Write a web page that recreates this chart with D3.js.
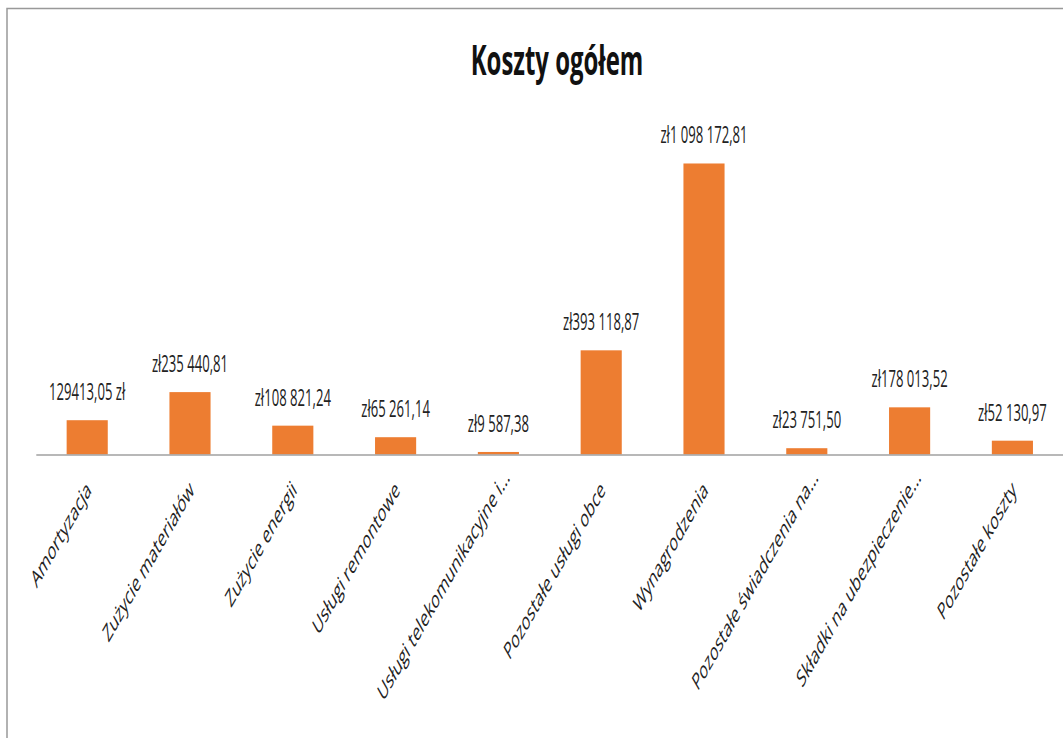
<!DOCTYPE html>
<html>
  <head>
    <meta charset="utf-8">
    <script src="https://cdn.jsdelivr.net/npm/d3@7"></script>
    <style>
        body { margin: 0; background: #fff; }
        text { font-family: "Open Sans", sans-serif; }
    </style>
  </head>

  <body>
    <div id="my_dataviz"></div>
  </body>

  <script>

    // data
    let categories = ["Amortyzacja", "Zużycie materiałów", "Zużycie energii", "Usługi remontowe",
                      "Usługi telekomunikacyjne i...", "Pozostałe usługi obce", "Wynagrodzenia",
                      "Pozostałe świadczenia na...", "Składki na ubezpieczenie...", "Pozostałe koszty"];
    let values = [129413.05, 235440.81, 108821.24, 65261.14, 9587.38, 393118.87, 1098172.81, 23751.50, 178013.52, 52130.97];
    let valueLabels = ["129413,05 zł", "zł235 440,81", "zł108 821,24", "zł65 261,14", "zł9 587,38",
                       "zł393 118,87", "zł1 098 172,81", "zł23 751,50", "zł178 013,52", "zł52 130,97"];
    let title = "Koszty ogółem";

    let width = 1063, height = 738;
    let squeeze = 0.57;   // the source picture is stretched narrow

    let svg = d3.select("#my_dataviz")
                .append("svg")
                    .attr("width", width)
                    .attr("height", height);

    // chart frame (only top and left edges are visible)
    svg.append("rect")
       .attr("x", 7).attr("y", 8.5)
       .attr("width", width + 20).attr("height", height + 20)
       .attr("fill", "none")
       .attr("stroke", "#999")
       .attr("stroke-width", 1.5);

    let x = d3.scaleBand()
              .domain(categories)
              .range([35.8, 1063.8])
              .paddingInner(0.6)
              .paddingOuter(0.3);

    let y = d3.scaleLinear()
              .domain([0, 1200000])
              .range([454.5, 136.5]);

    svg.append("text")
       .attr("transform", "translate(557,75) scale(" + squeeze + ",1)")
       .attr("text-anchor", "middle")
       .attr("font-size", 42)
       .attr("font-weight", "bold")
       .attr("fill", "#111")
       .text(title);

    // bars
    svg.append("g")
       .selectAll("rect")
       .data(values)
       .enter()
       .append("rect")
         .attr("x", function(d, i) { return x(categories[i]) })
         .attr("y", function(d) { return y(d) })
         .attr("width", x.bandwidth())
         .attr("height", function(d) { return y(0) - y(d) })
         .attr("fill", "#ED7D31");

    // x axis
    let xAxis = svg.append("g")
       .attr("transform", "translate(0," + y(0) + ")")
       .call(d3.axisBottom(x).tickSize(0).tickSizeOuter(0));

    xAxis.select(".domain")
         .attr("stroke", "#a0a0a0")
         .attr("stroke-width", 1.5);

    xAxis.selectAll(".tick text")
         .attr("y", 0).attr("dy", 0)
         .attr("font-family", "Open Sans")
         .attr("font-size", 24)
         .attr("fill", "#222")
         .attr("text-anchor", "end")
         .attr("transform", function(d) {
             let shift = d.endsWith("...") ? 18 : 0;
             return "translate(5,37) scale(" + squeeze + ",1) rotate(-45) translate(" + shift + ",0)";
         });

    // value labels
    svg.append("g")
       .selectAll("text")
       .data(values)
       .enter()
       .append("text")
         .attr("transform", function(d, i) {
             return "translate(" + (x(categories[i]) + x.bandwidth() / 2) + "," + (y(d) - 20) + ") scale(" + squeeze + ",1)";
         })
         .attr("text-anchor", "middle")
         .attr("font-size", 23)
         .attr("fill", "#222")
         .text(function(d, i) { return valueLabels[i] });

  </script>

</html>
